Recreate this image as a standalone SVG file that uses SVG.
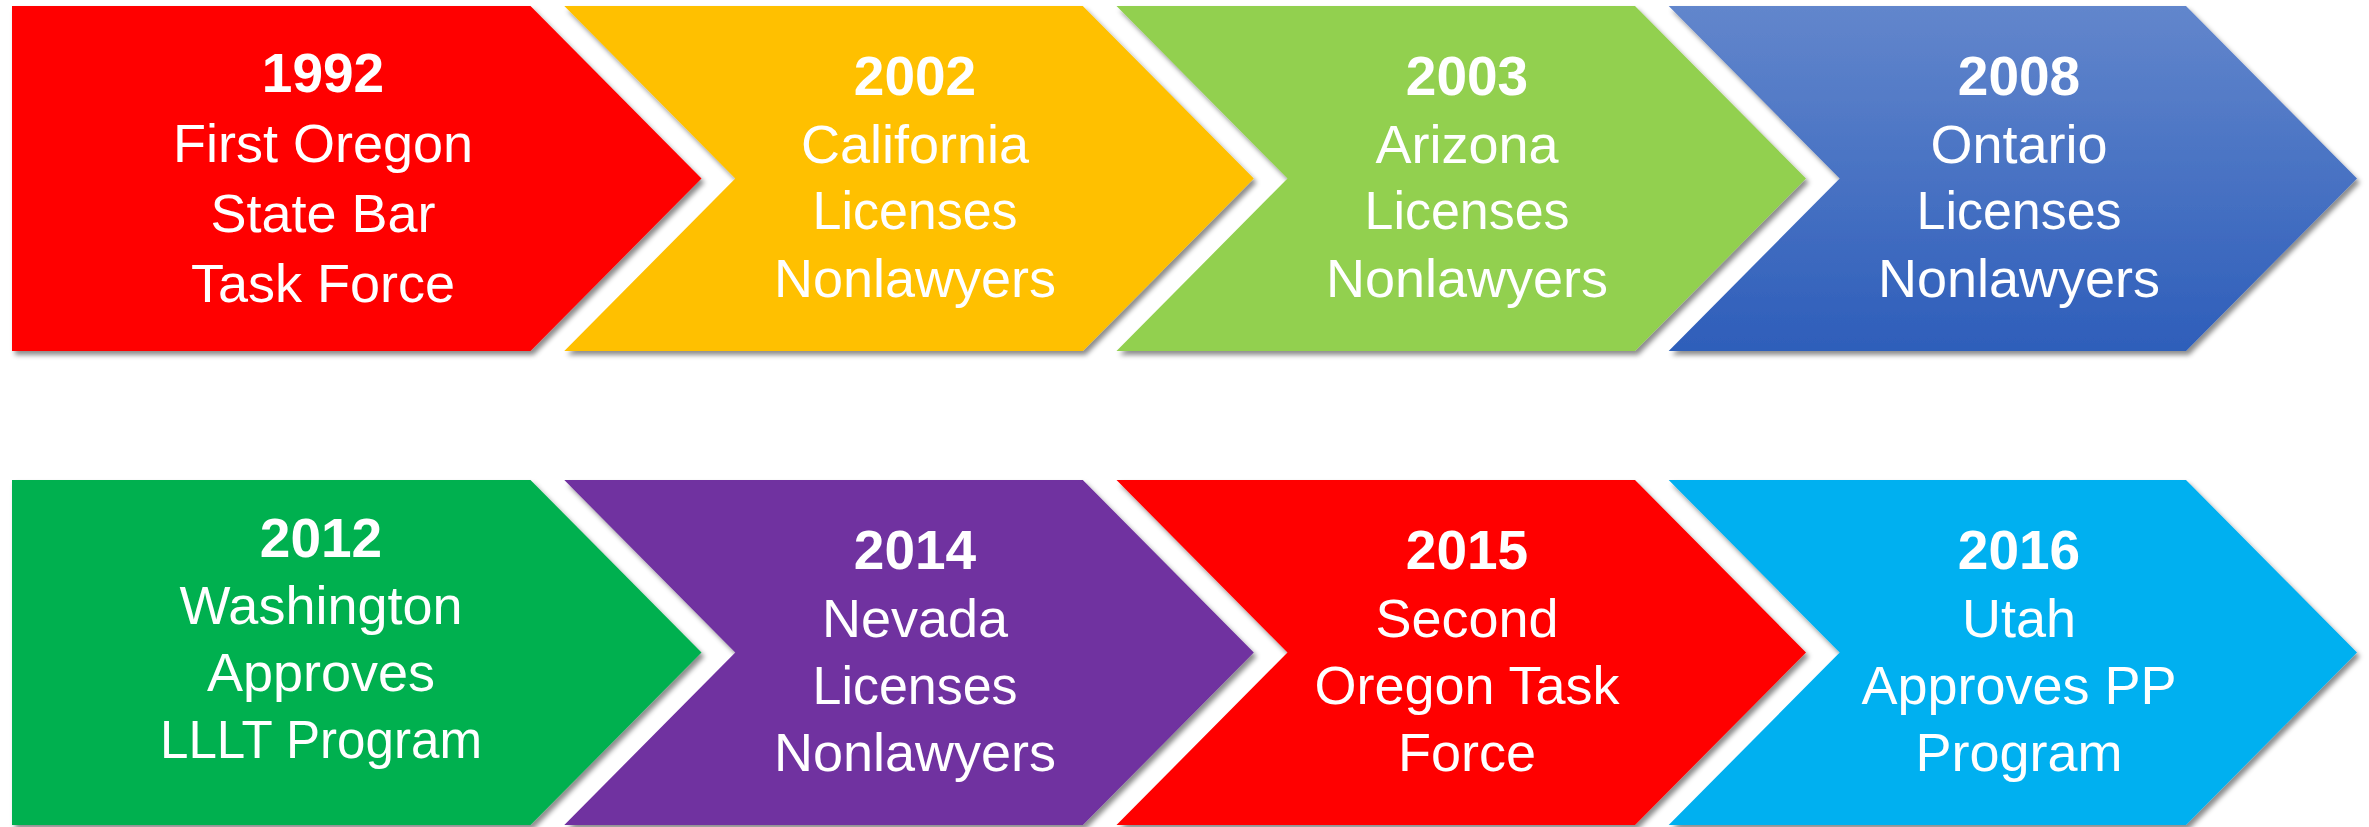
<svg xmlns="http://www.w3.org/2000/svg" width="2369" height="827" viewBox="0 0 2369 827">
<defs>
<filter id="sh" x="-5%" y="-5%" width="112%" height="115%">
<feDropShadow dx="3" dy="4" stdDeviation="2.5" flood-color="#000" flood-opacity="0.45"/>
</filter>
<linearGradient id="blue" x1="0" y1="0" x2="0" y2="1">
<stop offset="0" stop-color="#6286CC"/>
<stop offset="1" stop-color="#2E5EBA"/>
</linearGradient>
</defs>
<style>
.s{filter:url(#sh)}
text{font-family:"Liberation Sans",Arial,sans-serif;fill:#fff;text-anchor:middle}
.y{font-weight:bold;font-size:55px}
.t{font-size:54px}
</style>
<rect width="2369" height="827" fill="#fff"/>
<g id="n1992">
<polygon class="s" fill="#FF0000" points="12,6 530.5,6 701.5,178.5 530.5,351 12,351"/>
<text class="y" x="323" y="92">1992</text>
<text class="t" x="323" y="162">First Oregon</text>
<text class="t" x="323" y="232">State Bar</text>
<text class="t" x="323" y="302">Task Force</text>
</g>
<g id="n2002">
<polygon class="s" fill="#FFC000" points="564.3,6 1082.8,6 1253.8,178.5 1082.8,351 564.3,351 735.3,178.5"/>
<text class="y" x="915" y="95">2002</text>
<text class="t" x="915" y="163">California</text>
<text class="t" x="915" y="229" textLength="205" lengthAdjust="spacingAndGlyphs">Licenses</text>
<text class="t" x="915" y="297">Nonlawyers</text>
</g>
<g id="n2003">
<polygon class="s" fill="#92D050" points="1116.5,6 1635,6 1806,178.5 1635,351 1116.5,351 1287.5,178.5"/>
<text class="y" x="1467" y="95">2003</text>
<text class="t" x="1467" y="163">Arizona</text>
<text class="t" x="1467" y="229" textLength="205" lengthAdjust="spacingAndGlyphs">Licenses</text>
<text class="t" x="1467" y="297">Nonlawyers</text>
</g>
<g id="n2008">
<polygon class="s" fill="url(#blue)" points="1668.7,6 2186,6 2357,178.5 2186,351 1668.7,351 1839.7,178.5"/>
<text class="y" x="2019" y="95">2008</text>
<text class="t" x="2019" y="163">Ontario</text>
<text class="t" x="2019" y="229" textLength="205" lengthAdjust="spacingAndGlyphs">Licenses</text>
<text class="t" x="2019" y="297">Nonlawyers</text>
</g>
<g id="n2012">
<polygon class="s" fill="#00B050" points="12,480 530.5,480 701.5,652.5 530.5,825 12,825"/>
<text class="y" x="321" y="557">2012</text>
<text class="t" x="321" y="624">Washington</text>
<text class="t" x="321" y="691">Approves</text>
<text class="t" x="321" y="758" textLength="322" lengthAdjust="spacingAndGlyphs">LLLT Program</text>
</g>
<g id="n2014">
<polygon class="s" fill="#7030A0" points="564.3,480 1082.8,480 1253.8,652.5 1082.8,825 564.3,825 735.3,652.5"/>
<text class="y" x="915" y="569">2014</text>
<text class="t" x="915" y="637">Nevada</text>
<text class="t" x="915" y="704" textLength="205" lengthAdjust="spacingAndGlyphs">Licenses</text>
<text class="t" x="915" y="771">Nonlawyers</text>
</g>
<g id="n2015">
<polygon class="s" fill="#FF0000" points="1116.5,480 1635,480 1806,652.5 1635,825 1116.5,825 1287.5,652.5"/>
<text class="y" x="1467" y="569">2015</text>
<text class="t" x="1467" y="637">Second</text>
<text class="t" x="1467" y="704">Oregon Task</text>
<text class="t" x="1467" y="771">Force</text>
</g>
<g id="n2016">
<polygon class="s" fill="#00B0F0" points="1668.7,480 2186,480 2357,652.5 2186,825 1668.7,825 1839.7,652.5"/>
<text class="y" x="2019" y="569">2016</text>
<text class="t" x="2019" y="637">Utah</text>
<text class="t" x="2019" y="704">Approves PP</text>
<text class="t" x="2019" y="771">Program</text>
</g>
<g id="connectors"/>
</svg>
